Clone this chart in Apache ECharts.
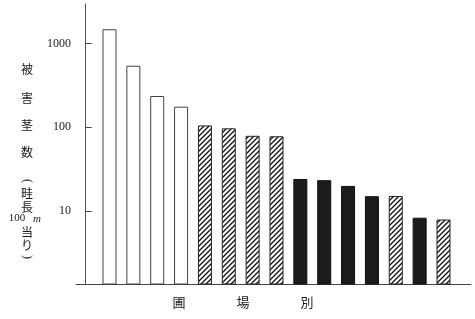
<!DOCTYPE html>
<html><head><meta charset="utf-8">
<script src="https://cdn.jsdelivr.net/npm/echarts@6/dist/echarts.min.js"></script>
<style>html,body{margin:0;padding:0;background:#fff}#c{width:475px;height:319px}</style>
</head><body><div id="c"></div>
<script>
// ---- data ----
const fieldIndex = [1, 2, 3, 4, 5, 6, 7, 8, 9, 10, 11, 12, 13, 14, 15];
const damageCounts = [1480, 543, 236, 176, 105, 97, 79, 78, 24.1, 23.3, 19.9, 15.0, 15.1, 8.3, 7.9];
const barKinds = ['open', 'open', 'open', 'open', 'hatch', 'hatch', 'hatch', 'hatch',
                  'solid', 'solid', 'solid', 'solid', 'hatch', 'solid', 'hatch'];
const yTickValues = [10, 100, 1000];
const yTickLabels = ['10', '100', '1000'];
const yTitleChars = ['被', '害', '茎', '数', '(', '畦', '長', '100', '当', 'り', ')'];
const yTitleUnit = 'm';
const xTitleChars = ['圃', '場', '別'];

// ---- styles ----
function hatchCanvas() {
  const s = 5;
  const c = document.createElement('canvas');
  c.width = s; c.height = s;
  const g = c.getContext('2d');
  g.fillStyle = '#fff'; g.fillRect(0, 0, s, s);
  g.strokeStyle = '#111'; g.lineWidth = 1.3;
  g.beginPath();
  g.moveTo(-1, s + 1); g.lineTo(s + 1, -1);
  g.moveTo(-1, 1); g.lineTo(1, -1);
  g.moveTo(s - 1, s + 1); g.lineTo(s + 1, s - 1);
  g.stroke();
  return c;
}
const hatchPattern = { image: hatchCanvas(), repeat: 'repeat' };
const kindStyle = {
  open: { color: '#ffffff', borderColor: '#444', borderWidth: 1 },
  hatch: { color: hatchPattern, borderColor: '#222', borderWidth: 1 },
  solid: { color: '#1c1c1c', borderColor: '#111', borderWidth: 1 }
};

const barData = fieldIndex.map((x, i) => ({
  value: [x, damageCounts[i]],
  itemStyle: kindStyle[barKinds[i]]
}));

// title graphics
const yTitleY = [69, 98, 125, 152, 181, 193, 207, 218, 232, 245, 257];
const graphics = [];
yTitleChars.forEach((ch, i) => {
  const isNum = ch === '100';
  const isParen = ch === '(' || ch === ')';
  graphics.push({
    type: 'text', x: isNum ? 17 : 27, y: yTitleY[i],
    rotation: isParen ? -Math.PI / 2 : 0,
    style: {
      text: ch, fill: '#1a1a1a',
      font: isNum ? '11px "Liberation Serif"' : (isParen ? '12px "Liberation Serif"' : '12px "Noto Sans CJK JP"'),
      align: 'center', verticalAlign: 'middle'
    }
  });
});
graphics.push({
  type: 'text', x: 37, y: 219,
  style: { text: yTitleUnit, fill: '#1a1a1a', font: 'italic 11px "Liberation Serif"', align: 'center', verticalAlign: 'middle' }
});
const xTitleX = [179, 243, 307];
xTitleChars.forEach((ch, i) => {
  graphics.push({
    type: 'text', x: xTitleX[i], y: 302,
    style: { text: ch, fill: '#1a1a1a', font: '13px "Noto Sans CJK JP"', align: 'center', verticalAlign: 'middle' }
  });
});

const chart = echarts.init(document.getElementById('c'), null, { renderer: 'canvas' });
chart.setOption({
  animation: false,
  backgroundColor: '#fff',
  grid: { left: 76, right: 4, top: 4, bottom: 35, containLabel: false },
  xAxis: {
    type: 'value', min: -0.404, max: 16.153,
    axisLine: { show: true, onZero: false, lineStyle: { color: '#444', width: 1 } },
    axisTick: { show: false }, axisLabel: { show: false }, splitLine: { show: false }
  },
  yAxis: {
    type: 'log', logBase: 10, min: 1.34, max: 2966,
    axisLine: { show: true, lineStyle: { color: '#555', width: 1 } },
    axisTick: { show: true, inside: true, length: 6, customValues: yTickValues, lineStyle: { color: '#444' } },
    axisLabel: {
      customValues: yTickValues,
      margin: 5, color: '#222', fontFamily: 'Liberation Serif', fontSize: 12,
      formatter: v => {
        const idx = yTickValues.findIndex(t => Math.abs(t - v) < 1e-6 * t);
        return idx >= 0 ? yTickLabels[idx] : '';
      }
    },
    splitLine: { show: false }
  },
  series: [{
    type: 'bar', barWidth: 14, data: barData
  }],
  graphic: graphics
});
</script>
</body></html>
